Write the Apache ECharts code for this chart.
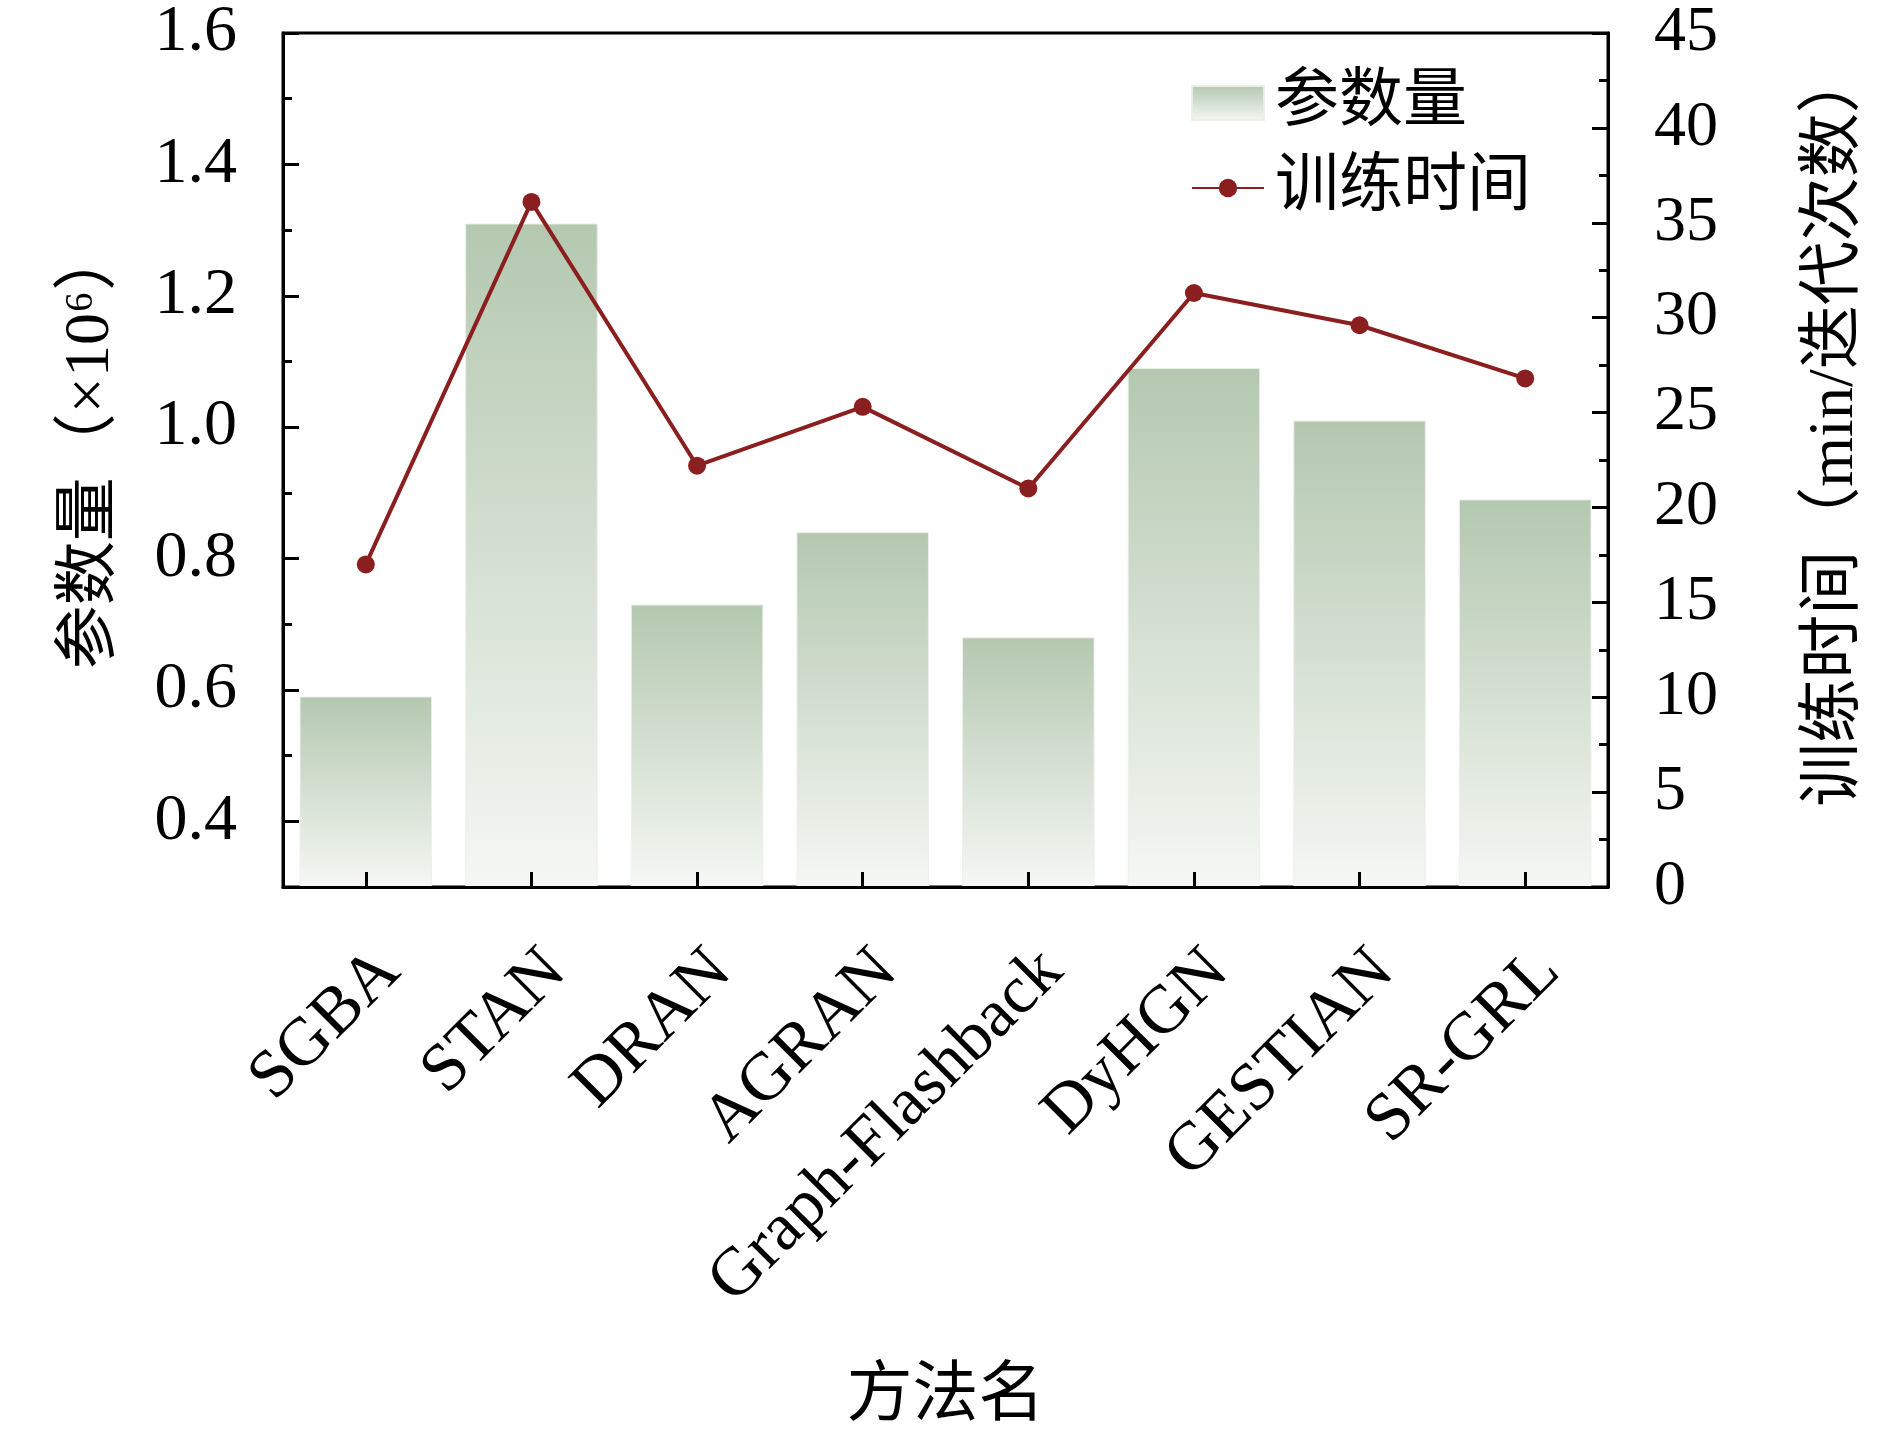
<!DOCTYPE html>
<html>
<head>
<meta charset="utf-8">
<script src="https://cdn.jsdelivr.net/npm/echarts@6/dist/echarts.min.js"></script>
<style>
html,body{margin:0;padding:0;background:#fff;}
#chart{width:1890px;height:1431px;}
</style>
</head>
<body>
<div id="chart"></div>
<script>
const categories = ['SGBA','STAN','DRAN','AGRAN','Graph-Flashback','DyHGN','GESTIAN','SR-GRL'];
const paramCounts = [0.59, 1.31, 0.73, 0.84, 0.68, 1.09, 1.01, 0.89];
const trainTimes = [17.0, 36.1, 22.2, 25.3, 21.0, 31.3, 29.6, 26.8];
const leftMajorTicks = [0.4, 0.6, 0.8, 1.0, 1.2, 1.4, 1.6];
const leftMinorTicks = [0.5, 0.7, 0.9, 1.1, 1.3, 1.5];

const FONT = "'Liberation Serif', 'DejaVu Serif', 'Noto Sans CJK SC', serif";
const chart = echarts.init(document.getElementById('chart'), null, {renderer:'canvas'});

const barGradient = new echarts.graphic.LinearGradient(0, 0, 0, 1, [
  {offset: 0, color: '#b4c8b0'},
  {offset: 1, color: '#f5f7f4'}
]);

const legendText = {fontSize: 64, fontFamily: FONT, color: '#000', padding: [0,0,26,6]};

chart.setOption({
  backgroundColor: '#fff',
  animation: false,
  textStyle: {fontFamily: FONT, color: '#000'},
  grid: {left: 283, right: 282, top: 33, bottom: 544, show: true, borderColor: '#000', borderWidth: 3, outerBoundsMode: 'none', containLabel: false},
  legend: [
    {
      orient: 'vertical', left: 1186, top: 66, itemWidth: 72, itemHeight: 34,
      textStyle: legendText,
      data: [{name: '参数量', icon: 'rect'}]
    },
    {
      orient: 'vertical', left: 1186, top: 151, itemWidth: 72, itemHeight: 23,
      textStyle: legendText,
      data: ['训练时间']
    }
  ],
  xAxis: {
    type: 'category', data: categories, z: 5,
    name: '方法名', nameLocation: 'middle', nameGap: 478,
    nameTextStyle: {fontSize: 66, fontFamily: FONT, color: '#000'},
    axisLine: {show: true, lineStyle: {color: '#000', width: 3}},
    axisTick: {show: true, inside: true, alignWithLabel: true, length: 15, lineStyle: {color: '#000', width: 3}},
    axisLabel: {rotate: 45, fontSize: 68, fontFamily: FONT, color: '#000', margin: 50, interval: 0, verticalAlign: 'top'},
    splitLine: {show: false}
  },
  yAxis: [
    {
      type: 'value', min: 0.3, max: 1.6, position: 'left', startValue: 0.3, z: 5,
      name: '参数量（×10⁶）', nameLocation: 'middle', nameRotate: 90, nameGap: 160,
      nameTextStyle: {fontSize: 64, fontFamily: FONT, color: '#000', padding: [0,0,0,24]},
      axisLine: {show: true, lineStyle: {color: '#000', width: 3}},
      axisTick: {show: true, inside: true, length: 16, customValues: leftMajorTicks, lineStyle: {color: '#000', width: 3}},
      axisLabel: {fontSize: 66, fontFamily: FONT, color: '#000', margin: 46, customValues: leftMajorTicks,
        formatter: v => v.toFixed(1)},
      splitLine: {show: false}
    },
    {
      type: 'value', min: 0.3, max: 1.6, position: 'left', z: 5,
      axisLine: {show: false},
      axisTick: {show: true, inside: true, length: 9, customValues: leftMinorTicks, lineStyle: {color: '#000', width: 3}},
      axisLabel: {show: false},
      splitLine: {show: false}
    },
    {
      type: 'value', min: 0, max: 45, interval: 5, position: 'right', z: 5,
      name: '训练时间（min/迭代次数）', nameLocation: 'middle', nameRotate: 90, nameGap: 195,
      nameTextStyle: {fontSize: 64, fontFamily: FONT, color: '#000', padding: [0,0,0,64]},
      axisLine: {show: true, lineStyle: {color: '#000', width: 3}},
      axisTick: {show: true, inside: true, length: 16, lineStyle: {color: '#000', width: 3}},
      minorTick: {show: true, splitNumber: 2, length: 9, lineStyle: {color: '#000', width: 3}},
      axisLabel: {fontSize: 64, fontFamily: FONT, color: '#000', margin: 46},
      splitLine: {show: false}
    }
  ],
  series: [
    {
      name: '参数量', type: 'bar', yAxisIndex: 0, data: paramCounts,
      barWidth: '80%',
      itemStyle: {color: barGradient, borderColor: 'rgba(235,240,234,0.9)', borderWidth: 1}
    },
    {
      name: '训练时间', type: 'line', yAxisIndex: 2, data: trainTimes,
      symbol: 'circle', symbolSize: 18,
      lineStyle: {color: '#8b1f1f', width: 4},
      itemStyle: {color: '#8b1f1f'}
    }
  ]
});
</script>
</body>
</html>
